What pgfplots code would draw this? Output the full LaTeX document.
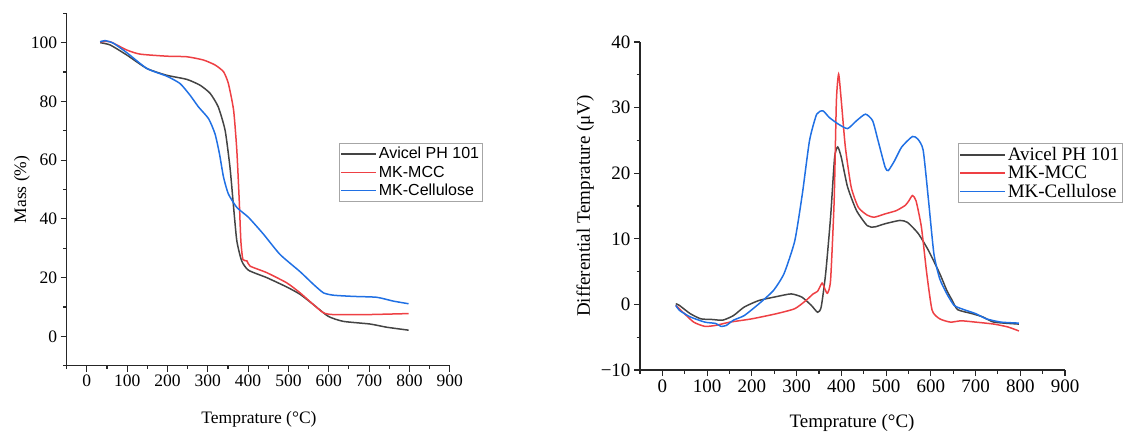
\documentclass[border=0pt]{standalone}
\usepackage{pgfplots}
\pgfplotsset{compat=1.18}
\usepackage{fontspec}
\setmainfont{Liberation Serif}
\newfontfamily\arialfont{Liberation Sans}
\definecolor{cavi}{RGB}{68,68,68}
\definecolor{cmcc}{RGB}{238,64,68}
\definecolor{ccel}{RGB}{32,112,228}
\pgfplotsset{
 mystyle/.style={
  scale only axis,
  axis x line=bottom, axis y line=left,
  axis line style={-, line width=1.2pt, color=black!85},
  tick align=outside,
  major tick length=6pt, minor tick length=3.5pt,
  every tick/.append style={line width=1.1pt, black!85},
  xmin=-50, xmax=900,
  xtick={0,100,...,900},
  xticklabels={0,100,200,300,400,500,600,700,800,900},
  minor xtick={-50,50,...,850},
  legend cell align=left,
 },
 dl/.style={line width=1.5pt, smooth, tension=0.35},
}
\begin{document}
\begin{tikzpicture}
\path[use as bounding box] (0,0) rectangle (1127pt,432pt);
% ---------- Left: TGA ----------
\begin{axis}[mystyle,
  at={(66.7pt,66.3pt)}, anchor=south west,
  width=383pt, height=352.4pt,
  ymin=-10, ymax=110,
  ytick={0,20,...,100},
  yticklabels={0,20,40,60,80,100},
  minor ytick={-10,10,30,...,110},
  font=\rmfamily\fontsize{17.5}{20}\selectfont,
  ticklabel style={font=\rmfamily\fontsize{17.5}{20}\selectfont},
  xlabel={Temprature (°C)},
  ylabel={Mass (\%)},
  xlabel style={at={(axis description cs:0.502,-0.152)}, anchor=center},
  ylabel style={at={(axis description cs:-0.117,0.5)}, anchor=center},
  legend image code/.code={\draw[#1, line width=1.5pt] (0pt,0pt) -- (35pt,0pt);},
  legend style={at={(axis description cs:0.711,0.632)}, anchor=north west,
    draw=black!35, line width=0.8pt, inner xsep=1pt, inner ysep=2pt,
    font=\arialfont\fontsize{16}{19}\selectfont, row sep=1.5pt,
    /tikz/every even column/.append style={column sep=2pt}},
]
\addplot[cavi, dl] coordinates {
(33,100) (58,99.2) (99,95.8) (149,91.2) (198,88.9) (248,87.5) (281,85.5) (306,82.7)
(326,78.1) (343,70.1) (355,57.6) (364,43.9) (372,32.5) (384,25.7) (401,22.5)
(446,20) (496,16.8) (529,14.3) (562,10.8) (599,6.8) (636,5.1) (702,4.2) (744,3.1) (798,2.1)};
\addlegendentry{Avicel PH 101}
\addplot[cmcc, dl] coordinates {
(33,100.3) (58,100.3) (99,97.5) (132,96.1) (198,95.4) (248,95.2) (289,94.1) (318,92.4)
(339,90.1) (351,86.1) (364,77) (372,63.3) (378,46.2) (382,32.5) (387,26.2) (397,25.7)
(405,23.9) (446,21.7) (496,18.2) (529,14.8) (562,10.8) (587,8.0) (612,7.4) (694,7.4) (798,7.75)};
\addlegendentry{MK-MCC}
\addplot[ccel, dl] coordinates {
(33,100.3) (45,100.7) (66,99.8) (99,96.6) (149,91.2) (198,88.6) (231,86.1) (256,82.1)
(277,78.1) (302,74.1) (318,68.9) (329,62.1) (339,54.2) (351,48.5) (372,43.9) (401,40.5)
(438,34.8) (479,27.9) (529,22) (562,17.7) (587,14.8) (612,14.0) (661,13.6) (719,13.3)
(760,12) (798,11.1)};
\addlegendentry{MK-Cellulose}
\end{axis}
% ---------- Right: DTA ----------
\begin{axis}[mystyle,
  at={(640pt,62pt)}, anchor=south west,
  width=425pt, height=328pt,
  ymin=-10, ymax=40,
  ytick={-10,0,...,40},
  yticklabels={−10,0,10,20,30,40},
  minor ytick={-5,5,...,35},
  font=\rmfamily\fontsize{19}{22}\selectfont,
  ticklabel style={font=\rmfamily\fontsize{19}{22}\selectfont},
  xlabel={Temprature (°C)},
  ylabel={Differential Temprature (μV)},
  xlabel style={at={(axis description cs:0.499,-0.162)}, anchor=center},
  ylabel style={at={(axis description cs:-0.129,0.5)}, anchor=center},
  legend image code/.code={\draw[#1, line width=1.5pt] (0pt,0pt) -- (45pt,0pt);},
  legend style={at={(axis description cs:0.748,0.692)}, anchor=north west,
    draw=black!35, line width=0.8pt, inner xsep=1pt, inner ysep=2pt,
    font=\rmfamily\fontsize{19}{22}\selectfont, row sep=0pt,
    /tikz/every even column/.append style={column sep=2pt}},
]
\addplot[cavi, dl] coordinates {
(30,0.1) (38,-0.15) (62,-1.4) (86,-2.2) (111,-2.3) (135,-2.4) (159,-1.7) (183,-0.4)
(216,0.6) (256,1.2) (288,1.6) (312,1.1) (333,-0.15) (347,-1.2) (355,-0.4) (365,4.7)
(376,13.3) (385,22.4) (392,24) (400,22.4) (414,17.9) (434,14.3) (458,12.0) (474,11.8)
(498,12.3) (531,12.8) (548,12.5) (572,10.8) (595,8.2) (620,4.7) (636,2.1) (648,0.6)
(660,-0.8) (692,-1.4) (716,-1.9) (741,-2.7) (797,-3.0)};
\addlegendentry{Avicel PH 101}
\addplot[cmcc, dl] coordinates {
(30,-0.15) (46,-1.2) (70,-2.7) (95,-3.35) (119,-3.2) (151,-2.7) (200,-2.2) (256,-1.4)
(296,-0.65) (321,0.6) (337,1.6) (347,2.0) (357,3.25) (363,2.4) (369,1.7) (376,3.7)
(384,15.8) (389,31) (394,35.1) (400,31) (409,24) (422,17.9) (438,14.8) (458,13.6)
(474,13.3) (498,13.8) (523,14.3) (543,15.1) (551,15.8) (559,16.6) (567,15.8) (579,11.8)
(591,4.7) (603,-0.9) (620,-2.2) (644,-2.7) (668,-2.5) (700,-2.7) (741,-3.0) (773,-3.45) (797,-4.05)};
\addlegendentry{MK-MCC}
\addplot[ccel, dl] coordinates {
(30,-0.15) (38,-0.9) (62,-1.9) (95,-2.7) (119,-2.9) (131,-3.35) (143,-3.2) (159,-2.4)
(183,-1.7) (216,0.1) (248,2.1) (272,4.7) (296,9.7) (313,16.9) (329,25) (345,29) (359,29.5)
(373,28.5) (393,27.5) (414,26.8) (434,28) (454,29) (470,28) (482,25) (498,20.9) (505,20.4)
(519,21.9) (535,24) (559,25.6) (571,25.2) (583,23.5) (595,15.8) (607,7.7) (620,3.9)
(636,1.6) (652,-0.15) (668,-0.65) (700,-1.4) (724,-2.2) (757,-2.7) (797,-2.85)};
\addlegendentry{MK-Cellulose}
\end{axis}
\end{tikzpicture}
\end{document}
